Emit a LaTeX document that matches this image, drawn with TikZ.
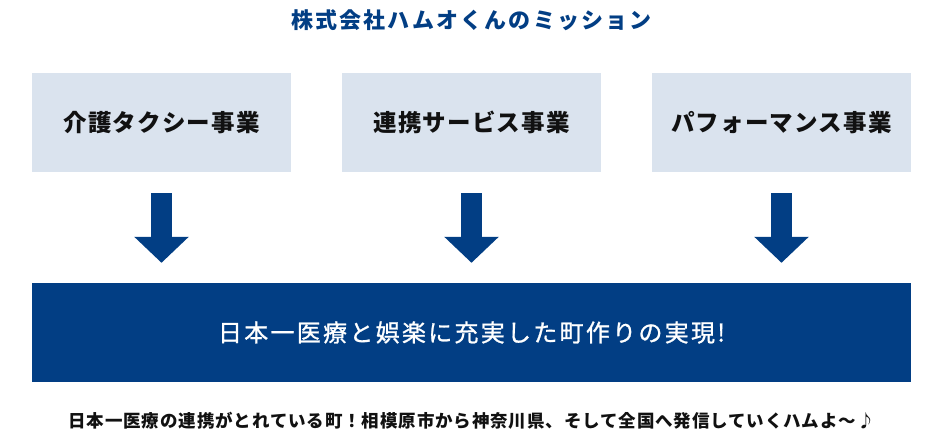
\documentclass[tikz,border=0pt]{standalone}
\usepackage{fontspec}
\setmainfont{Noto Sans CJK JP}
\newfontfamily\jp{Noto Sans CJK JP}
\usetikzlibrary{arrows.meta}
\definecolor{navy}{HTML}{023E84}
\definecolor{pale}{HTML}{DAE3EE}
\definecolor{ink}{HTML}{111111}
\tikzset{
  bizbox/.style={fill=pale, minimum width=259pt, minimum height=99pt, inner sep=0pt,
    text=ink, font=\jp\bfseries\fontsize{23.5}{26}\selectfont\addfontfeature{LetterSpace=5}},
  goalbox/.style={fill=navy, minimum width=879pt, minimum height=99pt, inner sep=0pt,
    text=white, font=\jp\fontsize{24}{26}\selectfont\addfontfeature{LetterSpace=9.5,FakeBold=1}},
  bigarrow/.style={draw=navy, line width=21pt, -{Triangle[width=53pt,length=26pt]}},
  titletext/.style={text=navy, font=\jp\bfseries\fontsize{22}{24}\selectfont\addfontfeature{LetterSpace=10}, inner sep=0pt},
  foottext/.style={text=ink, font=\jp\bfseries\fontsize{17.5}{20}\selectfont\addfontfeature{LetterSpace=5}, inner sep=0pt}
}
\begin{document}
\begin{tikzpicture}[x=1pt,y=-1pt]
\useasboundingbox (0,0) rectangle (944,440);
\node[titletext] (title) at (471.5,20) {株式会社ハムオくんのミッション};
\node[bizbox] (b1) at (161.5,122.5) {介護タクシー事業};
\node[bizbox] (b2) at (471.5,122.5) {連携サービス事業};
\node[bizbox] (b3) at (781.5,122.5) {パフォーマンス事業};
\node[goalbox] (goal) at (471.5,332.5) {日本一医療と娯楽に充実した町作りの実現!};
\draw[bigarrow] ([yshift=-21pt]b1.south) -- ([yshift=20pt]b1.south |- goal.north);
\draw[bigarrow] ([yshift=-21pt]b2.south) -- ([yshift=20pt]b2.south |- goal.north);
\draw[bigarrow] ([yshift=-21pt]b3.south) -- ([yshift=20pt]b3.south |- goal.north);
\node[foottext] (foot) at (471.5,421) {日本一医療の連携がとれている町！相模原市から神奈川県、そして全国へ発信していくハムよ～♪};
\end{tikzpicture}
\end{document}
